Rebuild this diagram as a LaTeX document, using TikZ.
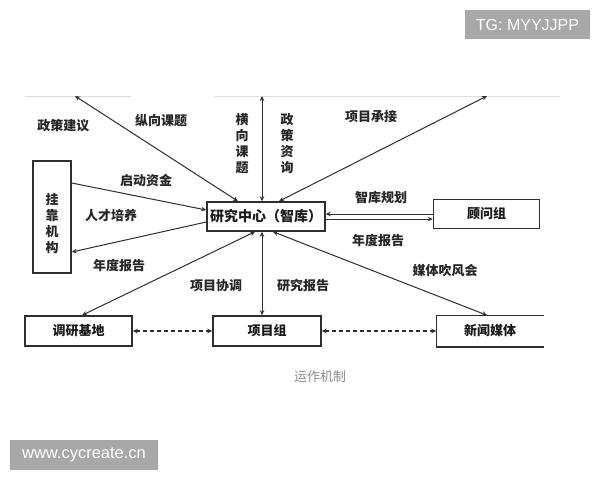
\documentclass[tikz,border=0pt]{standalone}
\usepackage{fontspec}
\setmainfont{Noto Sans CJK SC}
\newfontfamily\wmfont{Liberation Sans}
\usetikzlibrary{arrows.meta}
\definecolor{wmgray}{HTML}{A8A8A8}
\definecolor{linecol}{HTML}{2E2E2E}
\begin{document}
\begin{tikzpicture}[x=1pt,y=-1pt,
  box/.style={draw=linecol, line width=1.5pt, fill=white, inner sep=0pt,
    font=\fontsize{13}{15}\selectfont\bfseries, text=black!90},
  lbl/.style={inner sep=0pt, font=\fontsize{13}{15}\selectfont\bfseries, text=black!85},
  vlbl/.style={lbl, align=center, font=\fontsize{13}{16}\selectfont\bfseries},
  conn/.style={draw=linecol, line width=1pt},
  tipone/.style={conn, -{Stealth[length=5pt,width=4.5pt]}},
  tiptwo/.style={conn, {Stealth[length=5pt,width=4.5pt]}-{Stealth[length=5pt,width=4.5pt]}},
  dashconn/.style={tiptwo, dashed, dash pattern=on 4pt off 3pt, line width=1.1pt},
  wm/.style={fill=wmgray, text=white, inner sep=0pt, font=\wmfont\fontsize{16}{18}\selectfont}
]
\fill[white] (0,0) rectangle (600,480);
\useasboundingbox (0,0) rectangle (600,480);

% faint top border remnants
\draw[gray!30, line width=0.8pt] (25,96) -- (131,96);
\draw[gray!25, line width=0.8pt] (214,96) -- (560,96);

% boxes
\node[box, minimum width=38pt, minimum height=112pt] (gk) at (52,217) {};
\node[vlbl] (gkt) at (52,224) {挂\\靠\\机\\构};
\node[box, minimum width=118pt, minimum height=29pt, font=\fontsize{14}{16}\selectfont\bfseries] (zk) at (266,216.5) {研究中心（智库）};
\node[box, minimum width=106pt, minimum height=29pt] (gw) at (486.5,214) {顾问组};
\node[box, minimum width=107pt, minimum height=30pt] (dy) at (78.5,331) {调研基地};
\node[box, minimum width=108pt, minimum height=30pt] (xm) at (267,331) {项目组};
\node[box, draw=none, minimum width=106pt, minimum height=30pt] (xw) at (490,331) {新闻媒体};
\draw[draw=linecol, line width=1.5pt] (xw.north east) -- (xw.north west) -- (xw.south west) -- (xw.south east);

% free ends at top
\coordinate (t1) at (75,96);
\coordinate (t2) at (262,96);
\coordinate (t3) at (487,96);

% upward connectors
\draw[tiptwo] ([xshift=-28pt]zk.north) -- (t1);
\draw[tiptwo] ([xshift=-4pt]zk.north) -- (t2);
\draw[tiptwo] ([xshift=13pt]zk.north) -- (t3);

% left connectors
\draw[tipone] ([yshift=34pt]gk.east) -- ([yshift=6.5pt]zk.west);
\draw[tipone] ([yshift=-5.5pt]zk.west) -- ([yshift=-35pt]gk.east);

% right double connector
\draw[tipone] ([yshift=0pt]gw.west) -- ([yshift=2.5pt]zk.east);
\draw[tipone] ([yshift=-2.5pt]zk.east) -- ([yshift=-5pt]gw.west);

% downward connectors
\draw[tiptwo] ([xshift=-11pt]zk.south) -- ([xshift=3.5pt]dy.north);
\draw[tiptwo] ([xshift=-4pt]zk.south) -- ([xshift=-5pt]xm.north);
\draw[tiptwo] ([xshift=7pt]zk.south) -- ([xshift=-3pt]xw.north);

% dashed connectors
\draw[dashconn] (dy.east) -- (xm.west);
\draw[dashconn] (xm.east) -- (xw.west);

% labels
\node[lbl] (l1) at (63.5,126) {政策建议};
\node[lbl] (l2) at (161,121) {纵向课题};
\node[vlbl] (l3) at (242,144) {横\\向\\课\\题};
\node[vlbl] (l4) at (287,144) {政\\策\\资\\询};
\node[lbl] (l5) at (371,117) {项目承接};
\node[lbl] (l6) at (146,181) {启动资金};
\node[lbl] (l7) at (111,216) {人才培养};
\node[lbl] (l8) at (119,266) {年度报告};
\node[lbl] (l9) at (381,198) {智库规划};
\node[lbl] (l10) at (378,241) {年度报告};
\node[lbl] (l11) at (445,271) {媒体吹风会};
\node[lbl] (l12) at (216,286) {项目协调};
\node[lbl] (l13) at (303,286) {研究报告};
\node[inner sep=0pt, font=\fontsize{13}{15}\selectfont, text=black!45] (cap) at (320,377) {运作机制};

% watermarks
\node[wm, minimum width=125pt, minimum height=29pt] (wm1) at (527.5,24.5) {TG: MYYJJPP};
\node[wm, minimum width=148pt, minimum height=30pt, font=\wmfont\fontsize{16.5}{18}\selectfont] (wm2) at (84,455) {www.cycreate.cn};
\end{tikzpicture}
\end{document}
